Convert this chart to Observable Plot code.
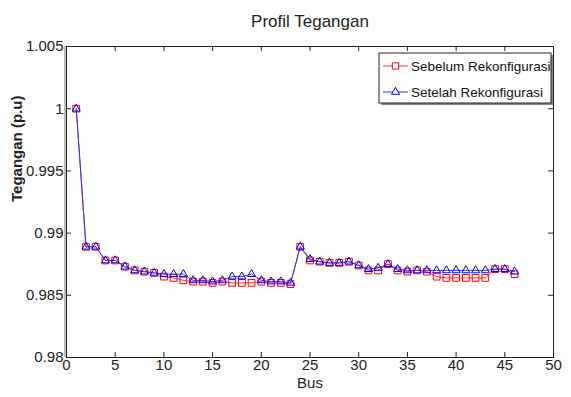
<!DOCTYPE html>
<html><head><meta charset="utf-8">
<script src="https://cdn.jsdelivr.net/npm/d3@7"></script>
<script src="https://cdn.jsdelivr.net/npm/@observablehq/plot@0.6"></script>
<style>
body{margin:0;background:#fff}
svg{font-family:"Liberation Sans",Arial,sans-serif;overflow:visible}
</style>
</head><body><div id="chart"></div>
<script>
const buses = [1,2,3,4,5,6,7,8,9,10,11,12,13,14,15,16,17,18,19,20,21,22,23,24,25,26,27,28,29,30,31,32,33,34,35,36,37,38,39,40,41,42,43,44,45,46];
const sebelum = [1.0000,0.9889,0.9889,0.9878,0.9878,0.9873,0.9870,0.9869,0.9868,0.9865,0.9864,0.9862,
  0.9861,0.9861,0.9860,0.9861,0.9860,0.9860,0.9860,0.9861,0.9860,0.9860,0.9859,
  0.9889,0.9878,0.9877,0.9876,0.9876,0.9877,0.9874,0.9870,0.9870,0.9875,0.9870,0.9869,0.9870,0.9869,
  0.9865,0.9864,0.9864,0.9864,0.9864,0.9864,0.9871,0.9871,0.9867];
const setelah = [1.0000,0.9889,0.9889,0.9878,0.9878,0.9873,0.9870,0.9869,0.9868,0.9867,0.9867,0.9867,
  0.9862,0.9862,0.9861,0.9862,0.9865,0.9865,0.9867,0.9862,0.9861,0.9861,0.9860,
  0.9889,0.9879,0.9877,0.9876,0.9876,0.9877,0.9874,0.9871,0.9872,0.9875,0.9871,0.9870,0.9870,0.9870,
  0.9870,0.9870,0.9870,0.9870,0.9870,0.9870,0.9871,0.9871,0.9869];
const xTicks = [0,5,10,15,20,25,30,35,40,45,50];
const yTicks = [0.98,0.985,0.99,0.995,1,1.005];
const yTickLabels = ["0.98","0.985","0.99","0.995","1","1.005"];
const seriesNames = ["Sebelum Rekonfigurasi","Setelah Rekonfigurasi"];

const W = 571, H = 397;
const mL = 66, mR = 18, mT = 46, mB = 40;
const pw = W - mL - mR, ph = H - mT - mB;

const red = buses.map((b,i)=>({bus:b, v:sebelum[i]}));
const blue = buses.map((b,i)=>({bus:b, v:setelah[i]}));

const chart = Plot.plot({
  width: W, height: H,
  marginLeft: mL, marginRight: mR, marginTop: mT, marginBottom: mB,
  x: {domain:[0,50], axis:null},
  y: {domain:[0.98,1.005], axis:null},
  style: {fontSize:"14px", fontFamily:"Liberation Sans, Arial, sans-serif", background:"#fff"},
  marks: [
    Plot.ruleX([0], {stroke:"#bbb", strokeWidth:3, dx:-1}),
    Plot.frame({stroke:"#222"}),
    Plot.tickY(yTicks, {y:d=>d, insetRight: pw-5, stroke:"#222"}),
    Plot.tickY(yTicks, {y:d=>d, insetLeft: pw-5, stroke:"#222"}),
    Plot.tickX(xTicks, {x:d=>d, insetTop: ph-5, stroke:"#222"}),
    Plot.tickX(xTicks, {x:d=>d, insetBottom: ph-5, stroke:"#222"}),
    Plot.text(yTicks, {y:d=>d, text:(d,i)=>yTickLabels[i], frameAnchor:"left", textAnchor:"end", dx:-3, fontSize:15, fill:"#222"}),
    Plot.text(xTicks, {x:d=>d, text:d=>String(d), frameAnchor:"bottom", lineAnchor:"top", dy:2, fontSize:15, fill:"#222"}),
    Plot.text(["Bus"], {frameAnchor:"bottom", lineAnchor:"top", dy:20, fontSize:15, fill:"#222"}),
    Plot.text(["Tegangan (p.u)"], {frameAnchor:"left", rotate:-90, dx:-49, fontSize:15, fontWeight:"bold", fill:"#222"}),
    Plot.text(["Profil Tegangan"], {frameAnchor:"top", lineAnchor:"bottom", dy:-20, fontSize:17, fill:"#222"}),
    Plot.line(red, {x:"bus", y:"v", stroke:"#ff3333", strokeWidth:1}),
    Plot.dot(red, {x:"bus", y:"v", symbol:"square", r:3.8, stroke:"#ff0000", fill:"none", strokeWidth:1}),
    Plot.line(blue, {x:"bus", y:"v", stroke:"#3333ff", strokeWidth:1}),
    Plot.dot(blue, {x:"bus", y:"v", symbol:"triangle", r:3, stroke:"#0000ff", fill:"none", strokeWidth:1})
  ]
});
document.getElementById("chart").appendChild(chart);

// legend
const svg = d3.select(chart);
const lg = svg.append("g").attr("text-anchor","start");
lg.append("rect").attr("x",381).attr("y",55).attr("width",172).attr("height",50).attr("fill","#888");
lg.append("rect").attr("x",379).attr("y",53).attr("width",172).attr("height",50).attr("fill","#fff").attr("stroke","#222");
const colors = ["#ff0000","#0000ff"];
const syms = [d3.symbolSquare, d3.symbolTriangle];
seriesNames.forEach((name,i)=>{
  const y = 66 + i*26;
  lg.append("line").attr("x1",383).attr("x2",408).attr("y1",y).attr("y2",y).attr("stroke",colors[i]).attr("stroke-opacity",0.8);
  lg.append("path").attr("d", d3.symbol(syms[i], i===0?40:28)()).attr("transform",`translate(395.5,${y})`)
    .attr("fill","#fff").attr("stroke",colors[i]);
  lg.append("text").attr("x",411).attr("y",y).attr("dy","0.35em").attr("text-anchor","start")
    .attr("font-size",13.5).attr("fill","#111").text(name);
});
</script>
</body></html>
